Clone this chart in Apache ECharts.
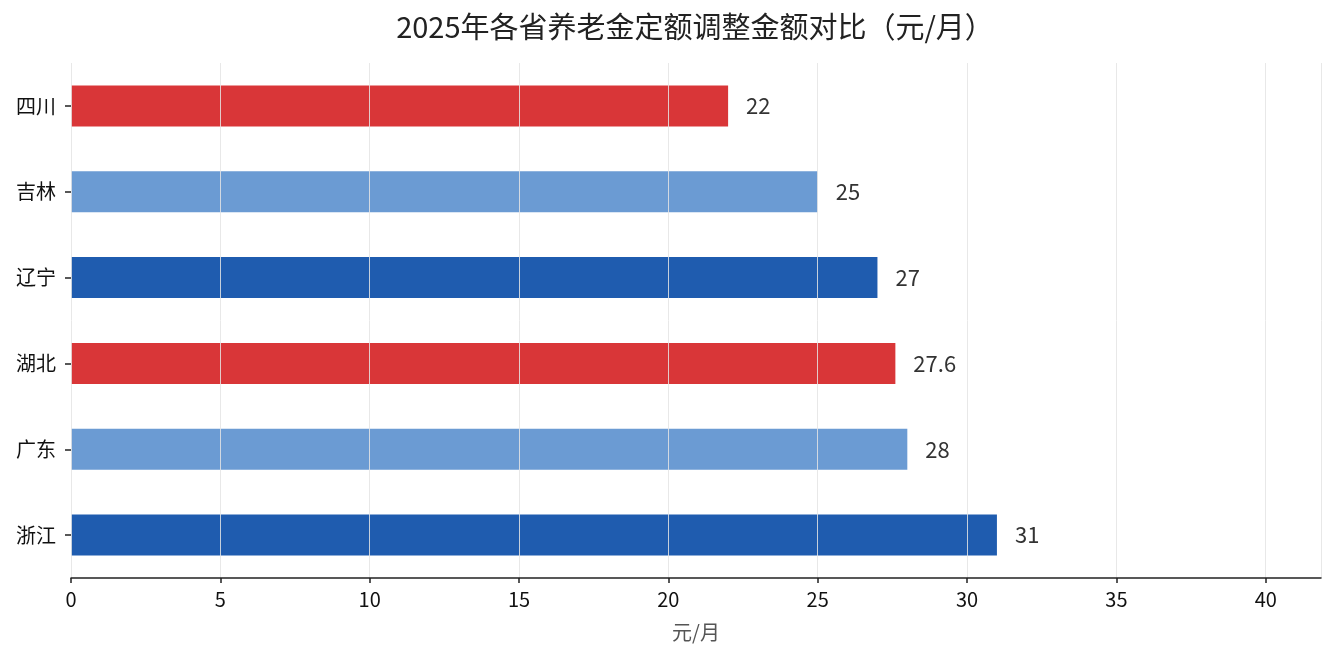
<!DOCTYPE html>
<html>
<head>
<meta charset="utf-8">
<title>2025年各省养老金定额调整金额对比</title>
<script src="https://cdn.jsdelivr.net/npm/echarts@6/dist/echarts.min.js"></script>
<style>
    html, body { margin: 0; padding: 0; background: #fff; }
    #chart { width: 1335px; height: 660px; }
</style>
</head>
<body>
<div id="chart"></div>
<script>
// 数据（从下往上）
var provinces = ['浙江', '广东', '湖北', '辽宁', '吉林', '四川'];
var amounts = [31, 28, 27.6, 27, 25, 22];
var barColors = ['#1f5caf', '#6b9bd3', '#d93638', '#1f5caf', '#6b9bd3', '#d93638'];
var xTicks = [0, 5, 10, 15, 20, 25, 30, 35, 40];

var font = '"Noto Sans CJK SC", "Noto Sans", sans-serif';

initChart();

function initChart() {
    var chart = echarts.init(document.getElementById('chart'));
    var maxVal = Math.max.apply(null, amounts) * 1.35;

    var option = {
        animation: false,
        title: {
            text: '2025年各省养老金定额调整金额对比（元/月）',
            left: 690,
            textAlign: 'center',
            top: 7,
            textStyle: {
                fontFamily: font,
                fontSize: 29,
                fontWeight: 'normal',
                color: '#222'
            }
        },
        grid: {
            left: 71,
            right: 14,
            top: 63,
            bottom: 82,
            containLabel: false
        },
        xAxis: {
            type: 'value',
            min: 0,
            max: maxVal,
            interval: 5,
            z: 3,
            name: '元/月',
            nameLocation: 'middle',
            nameGap: 44,
            nameTextStyle: {
                fontFamily: font,
                fontSize: 20,
                color: '#555'
            },
            axisLine: {
                show: true,
                lineStyle: { color: '#222', width: 1.5 }
            },
            axisTick: {
                show: true,
                length: 5,
                lineStyle: { color: '#222', width: 1.5 }
            },
            axisLabel: {
                fontFamily: font,
                fontSize: 20,
                color: '#111',
                margin: 11,
                showMaxLabel: false,
                formatter: function (v) {
                    return xTicks.indexOf(v) >= 0 ? String(v) : '';
                }
            },
            splitLine: {
                show: true,
                lineStyle: { color: 'rgba(228,228,228,0.85)', width: 1 }
            }
        },
        yAxis: {
            type: 'category',
            data: provinces,
            axisLine: { show: false },
            axisTick: {
                show: true,
                length: 6,
                alignWithLabel: true,
                lineStyle: { color: '#222', width: 1.5 }
            },
            axisLabel: {
                fontFamily: font,
                fontSize: 20,
                color: '#111',
                margin: 15
            },
            splitLine: { show: false }
        },
        series: [
            {
                type: 'bar',
                barWidth: 41,
                data: amounts.map(function (v, i) {
                    return { value: v, itemStyle: { color: barColors[i] } };
                }),
                label: {
                    show: true,
                    position: 'right',
                    distance: 18,
                    fontFamily: font,
                    fontSize: 22,
                    color: '#333'
                }
            }
        ]
    };
    chart.setOption(option);
}
</script>
</body>
</html>
